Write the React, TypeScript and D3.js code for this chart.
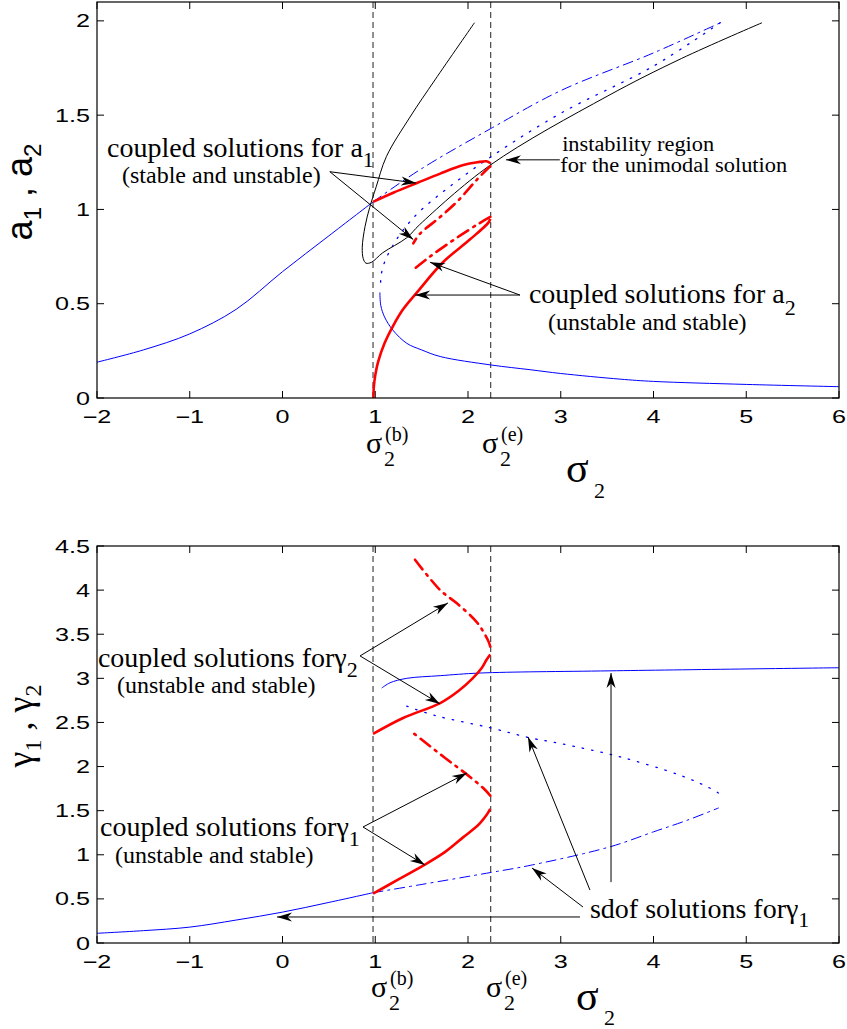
import React from "react";
import * as d3 from "d3";

const WIDTH = 847;
const HEIGHT = 1029;
const SERIF = "'Liberation Serif', 'Times New Roman', serif";
const SANS = "'Liberation Sans', Arial, sans-serif";

type Pt = [number, number];

const X_TICKS = [-2, -1, 0, 1, 2, 3, 4, 5, 6];
const X_TICK_LABELS = ["\u22122", "\u22121", "0", "1", "2", "3", "4", "5", "6"];
const A_TICKS = [0, 0.5, 1, 1.5, 2];
const A_TICK_LABELS = ["0", "0.5", "1", "1.5", "2"];
const G_TICKS = [0, 0.5, 1, 1.5, 2, 2.5, 3, 3.5, 4, 4.5];
const G_TICK_LABELS = ["0", "0.5", "1", "1.5", "2", "2.5", "3", "3.5", "4", "4.5"];

const SIGMA_B = 0.976;
const SIGMA_E = 2.245;

// ---- top panel: amplitudes a1, a2 ----
const sdofA1Lower: Pt[] = [[-2, 0.19], [-1.5, 0.255], [-1, 0.34], [-0.5, 0.47], [0, 0.67], [0.5, 0.86], [0.976, 1.04]];
const sdofA1Upper: Pt[] = [[0.976, 1.04], [1.48, 1.21], [2.25, 1.43], [3, 1.63], [4, 1.83], [4.72, 1.99]];
const sdofA1Middle: Pt[] = [[4.72, 1.99], [4, 1.76], [3, 1.51], [2.25, 1.28], [1.8, 1.12], [1.48, 0.99], [1.3, 0.89], [1.18, 0.8], [1.1, 0.72], [1.06, 0.64], [1.06, 0.6]];
const sdofA1Low: Pt[] = [[1.05, 0.56], [1.06, 0.49], [1.1, 0.43], [1.19, 0.36], [1.34, 0.29], [1.5, 0.255], [1.7, 0.22], [2.25, 0.175], [2.67, 0.15], [3, 0.13], [3.64, 0.1], [4, 0.088], [5, 0.072], [6, 0.06]];
const unimodalA: Pt[] = [[2.07, 1.99], [1.644, 1.687], [1.375, 1.49], [1.12, 1.28], [1.01, 1.12], [0.94, 1.01], [0.89, 0.91], [0.86, 0.8], [0.87, 0.74], [0.9, 0.715], [0.96, 0.72], [1.08, 0.77], [1.34, 0.85], [1.48, 0.92], [2.24, 1.235], [3.5, 1.6], [4.3, 1.8], [5.17, 1.99]];
const coupledA1Stable: Pt[] = [[0.976, 1.04], [1.2, 1.09], [1.45, 1.14], [1.7, 1.19], [1.95, 1.235], [2.1, 1.25], [2.2, 1.255], [2.24, 1.245]];
const coupledA1Unstable: Pt[] = [[2.24, 1.23], [2.1, 1.16], [1.9, 1.05], [1.7, 0.96], [1.48, 0.87], [1.41, 0.82]];
const coupledA2Stable: Pt[] = [[0.98, 0], [0.985, 0.06], [1.0, 0.12], [1.03, 0.19], [1.1, 0.29], [1.19, 0.38], [1.3, 0.47], [1.45, 0.56], [1.73, 0.72], [2.02, 0.84], [2.22, 0.93], [2.24, 0.95]];
const coupledA2Unstable: Pt[] = [[2.24, 0.96], [2.1, 0.92], [1.85, 0.84], [1.59, 0.75], [1.41, 0.68]];

// ---- bottom panel: phases gamma1, gamma2 ----
const sdofG1Lower: Pt[] = [[-2, 0.11], [-1.5, 0.14], [-1, 0.18], [-0.5, 0.26], [0, 0.35], [0.5, 0.46], [0.976, 0.57]];
const sdofG1Upper: Pt[] = [[0.976, 0.57], [1.48, 0.66], [2.25, 0.8], [2.67, 0.88], [3.53, 1.09], [4, 1.26], [4.36, 1.39], [4.7, 1.53]];
const sdofG1Middle: Pt[] = [[4.7, 1.7], [4.6, 1.76], [4.29, 1.9], [3.64, 2.11], [3, 2.26], [2.65, 2.33], [2.24, 2.44], [1.64, 2.58], [1.3, 2.7]];
const sdofG1High: Pt[] = [[1.07, 2.89], [1.16, 2.95], [1.34, 3.0], [1.7, 3.03], [2.13, 3.06], [3.53, 3.085], [6, 3.12]];
const coupledG2Stable: Pt[] = [[0.976, 2.37], [1.3, 2.55], [1.7, 2.72], [1.9, 2.86], [2.05, 3.0], [2.15, 3.12], [2.2, 3.21], [2.24, 3.27]];
const coupledG2Unstable: Pt[] = [[2.24, 3.36], [2.22, 3.42], [2.1, 3.63], [1.88, 3.85], [1.7, 4.0], [1.41, 4.37]];
const coupledG1Stable: Pt[] = [[0.976, 0.56], [1.25, 0.72], [1.52, 0.88], [1.75, 1.03], [1.95, 1.2], [2.07, 1.3], [2.13, 1.36], [2.2, 1.45], [2.24, 1.52]];
const coupledG1Unstable: Pt[] = [[2.24, 1.67], [2.18, 1.74], [2.0, 1.9], [1.75, 2.1], [1.41, 2.38]];

type Style = { stroke: string; width: number; dash?: string };
const BLUE = "#0000ff";
const RED = "#ff0000";
const blueSolid: Style = { stroke: BLUE, width: 1 };
const blueDashDot: Style = { stroke: BLUE, width: 1, dash: "10,5,2,5" };
const blueDot: Style = { stroke: BLUE, width: 1.3, dash: "1.5,8" };
const redSolid: Style = { stroke: RED, width: 2.6 };
const redDashDot: Style = { stroke: RED, width: 2.6, dash: "12,6,2,6" };
const blackSolid: Style = { stroke: "#000", width: 1 };

type Arrow = { from: Pt; to: Pt };
type Part = { text: string; size?: number; dy?: number; dx?: number };
type Note = { at: Pt; size: number; parts: Part[]; length?: number };

const topArrows: Arrow[] = [
  { from: [0.51, 1.2], to: [1.44, 1.14] },
  { from: [0.51, 1.2], to: [1.41, 0.84] },
  { from: [2.99, 1.263], to: [2.41, 1.263] },
  { from: [2.56, 0.546], to: [1.59, 0.72] },
  { from: [2.56, 0.546], to: [1.43, 0.546] },
];
const topNotes: Note[] = [
  { at: [-1.892, 1.278], size: 28, parts: [{ text: "coupled solutions for a" }, { text: "1", size: 22, dy: 10 }] },
  { at: [-1.73, 1.14], size: 24, parts: [{ text: "(stable and unstable)" }] },
  { at: [3.015, 1.31], size: 20, parts: [{ text: "instability region" }], length: 152 },
  { at: [2.994, 1.196], size: 20, parts: [{ text: "for the unimodal solution" }], length: 227 },
  { at: [2.657, 0.504], size: 28, parts: [{ text: "coupled solutions for a" }, { text: "2", size: 22, dy: 12 }] },
  { at: [2.862, 0.36], size: 24, parts: [{ text: "(unstable and stable)" }] },
];

const bottomArrows: Arrow[] = [
  { from: [0.836, 3.254], to: [1.784, 3.855] },
  { from: [0.836, 3.254], to: [1.698, 2.71] },
  { from: [0.868, 1.315], to: [1.989, 1.927] },
  { from: [0.868, 1.315], to: [1.536, 0.884] },
  { from: [3.208, 0.295], to: [-0.059, 0.295] },
  { from: [3.24, 0.408], to: [2.69, 0.85] },
  { from: [3.315, 0.6], to: [2.647, 2.336] },
  { from: [3.542, 0.69], to: [3.542, 3.06] },
];
const bottomNotes: Note[] = [
  { at: [-1.99, 3.13], size: 28, parts: [{ text: "coupled solutions for" }, { text: "\u03b3" }, { text: "2", size: 22, dy: 10 }] },
  { at: [-1.785, 2.83], size: 24, parts: [{ text: "(unstable and stable)" }] },
  { at: [-1.968, 1.213], size: 28, parts: [{ text: "coupled solutions for" }, { text: "\u03b3" }, { text: "1", size: 22, dy: 10 }] },
  { at: [-1.806, 0.907], size: 24, parts: [{ text: "(unstable and stable)" }] },
  { at: [3.315, 0.283], size: 28, parts: [{ text: "sdof solutions for" }, { text: "\u03b3" }, { text: "1", size: 22, dy: 9 }] },
];

type Curve = { data: Pt[]; style: Style };

const topCurves: Curve[] = [
  { data: sdofA1Lower, style: blueSolid },
  { data: sdofA1Upper, style: blueDashDot },
  { data: sdofA1Middle, style: blueDot },
  { data: sdofA1Low, style: blueSolid },
  { data: unimodalA, style: blackSolid },
  { data: coupledA1Stable, style: redSolid },
  { data: coupledA1Unstable, style: redDashDot },
  { data: coupledA2Stable, style: redSolid },
  { data: coupledA2Unstable, style: redDashDot },
];
const bottomCurves: Curve[] = [
  { data: sdofG1Lower, style: blueSolid },
  { data: sdofG1Upper, style: blueDashDot },
  { data: sdofG1Middle, style: blueDot },
  { data: sdofG1High, style: blueSolid },
  { data: coupledG2Stable, style: redSolid },
  { data: coupledG2Unstable, style: redDashDot },
  { data: coupledG1Stable, style: redSolid },
  { data: coupledG1Unstable, style: redDashDot },
];

function arrowHead(x0: number, y0: number, x1: number, y1: number) {
  const len = Math.hypot(x1 - x0, y1 - y0);
  const ux = (x1 - x0) / len;
  const uy = (y1 - y0) / len;
  const L = 15;
  const W = 4.5;
  const bx = x1 - ux * L;
  const by = y1 - uy * L;
  const nx = x1 - ux * L * 0.7;
  const ny = y1 - uy * L * 0.7;
  return `M${x1},${y1}L${bx - uy * W},${by + ux * W}L${nx},${ny}L${bx + uy * W},${by - ux * W}Z`;
}

type PanelProps = {
  top: number;
  bottom: number;
  yDomain: [number, number];
  yTicks: number[];
  yTickLabels: string[];
  curves: Curve[];
  arrows: Arrow[];
  notes: Note[];
  yLabel: { main: string; sub: string }[];
  yLabelFont: string;
  yLabelY: number;
  sigmaB: [number, number];
  sigmaE: [number, number];
  sigmaAxis: [number, number, number];
};

function Panel(p: PanelProps) {
  const x = d3.scaleLinear().domain([-2, 6]).range([97, 839]);
  const y = d3.scaleLinear().domain(p.yDomain).range([p.bottom, p.top]);
  const line = d3
    .line<Pt>()
    .x((d) => x(d[0]))
    .y((d) => y(d[1]))
    .curve(d3.curveCatmullRom.alpha(0.5));
  const left = x(-2);
  const right = x(6);
  const tickLen = 7;

  const sigmaMark = (sx: number, base: number, sup: string) => (
    <g fontFamily={SERIF}>
      <text x={sx} y={base} fontSize={30}>{"\u03c3"}</text>
      <text x={sx + 18} y={base + 13} fontSize={22}>2</text>
      <text x={sx + 19} y={base - 12} fontSize={20}>{sup}</text>
    </g>
  );

  return (
    <g>
      {[SIGMA_B, SIGMA_E].map((s) => (
        <line key={s} x1={x(s)} x2={x(s)} y1={p.top} y2={p.bottom} stroke="#222" strokeWidth={1} strokeDasharray="6,4" />
      ))}
      {p.curves.map((c, i) => (
        <path
          key={i}
          d={line(c.data) ?? ""}
          fill="none"
          stroke={c.style.stroke}
          strokeWidth={c.style.width}
          strokeDasharray={c.style.dash}
          strokeLinecap={c.style.dash ? "round" : "butt"}
        />
      ))}
      {p.arrows.map((a, i) => {
        const x0 = x(a.from[0]);
        const y0 = y(a.from[1]);
        const x1 = x(a.to[0]);
        const y1 = y(a.to[1]);
        return (
          <g key={i}>
            <line x1={x0} y1={y0} x2={x1} y2={y1} stroke="#000" strokeWidth={1} />
            <path d={arrowHead(x0, y0, x1, y1)} fill="#000" />
          </g>
        );
      })}
      {p.notes.map((n, i) => (
        <text
          key={i}
          x={x(n.at[0])}
          y={y(n.at[1])}
          fontFamily={SERIF}
          fontSize={n.size}
          fill="#000"
          textLength={n.length}
          lengthAdjust={n.length ? "spacingAndGlyphs" : undefined}
        >
          {n.parts.map((pt, j) => (
            <tspan key={j} fontSize={pt.size} dy={pt.dy} dx={pt.dx}>
              {pt.text}
            </tspan>
          ))}
        </text>
      ))}
      {/* frame and ticks */}
      <rect x={left} y={p.top} width={right - left} height={p.bottom - p.top} fill="none" stroke="#000" strokeWidth={1.2} />
      {X_TICKS.map((t, i) => (
        <g key={t}>
          <line x1={x(t)} x2={x(t)} y1={p.bottom} y2={p.bottom - tickLen} stroke="#000" />
          <line x1={x(t)} x2={x(t)} y1={p.top} y2={p.top + tickLen} stroke="#000" />
          <text
            transform={`translate(${x(t)},${p.bottom + 25}) scale(1.4,1)`}
            textAnchor="middle"
            fontFamily={SANS}
            fontSize={18}
          >
            {X_TICK_LABELS[i]}
          </text>
        </g>
      ))}
      {p.yTicks.map((t, i) => (
        <g key={t}>
          <line x1={left} x2={left + tickLen} y1={y(t)} y2={y(t)} stroke="#000" />
          <line x1={right} x2={right - tickLen} y1={y(t)} y2={y(t)} stroke="#000" />
          <text
            transform={`translate(${left - 7},${y(t) + 6.5}) scale(1.4,1)`}
            textAnchor="end"
            fontFamily={SANS}
            fontSize={18}
          >
            {p.yTickLabels[i]}
          </text>
        </g>
      ))}
      <text transform={`translate(32,${p.yLabelY}) rotate(-90)`} textAnchor="middle" fontFamily={p.yLabelFont} fontSize={36}>
        {p.yLabel.map((l, i) => (
          <React.Fragment key={i}>
            <tspan dy={i === 0 ? 0 : -9}>{l.main}</tspan>
            <tspan fontSize={24} dy={9}>{l.sub}</tspan>
          </React.Fragment>
        ))}
      </text>
      {sigmaMark(p.sigmaB[0], p.sigmaB[1], "(b)")}
      {sigmaMark(p.sigmaE[0], p.sigmaE[1], "(e)")}
      <g fontFamily={SERIF}>
        <text x={p.sigmaAxis[0]} y={p.sigmaAxis[1]} fontSize={42}>{"\u03c3"}</text>
        <text x={p.sigmaAxis[0] + 28} y={p.sigmaAxis[2]} fontSize={22}>2</text>
      </g>
    </g>
  );
}

export default function App() {
  return (
    <svg
      width={WIDTH}
      height={HEIGHT}
      viewBox={`0 0 ${WIDTH} ${HEIGHT}`}
      style={{ position: "absolute", left: 0, top: 0, background: "#fff" }}
    >
      <rect width={WIDTH} height={HEIGHT} fill="#fff" />
      <Panel
        top={2}
        bottom={398}
        yDomain={[0, 2.1]}
        yTicks={A_TICKS}
        yTickLabels={A_TICK_LABELS}
        curves={topCurves}
        arrows={topArrows}
        notes={topNotes}
        yLabel={[
          { main: "a", sub: "1" },
          { main: " , a", sub: "2" },
        ]}
        yLabelFont={SANS}
        yLabelY={192}
        sigmaB={[366, 453]}
        sigmaE={[482, 453]}
        sigmaAxis={[566, 482, 498]}
      />
      <Panel
        top={546}
        bottom={943}
        yDomain={[0, 4.5]}
        yTicks={G_TICKS}
        yTickLabels={G_TICK_LABELS}
        curves={bottomCurves}
        arrows={bottomArrows}
        notes={bottomNotes}
        yLabel={[
          { main: "\u03b3", sub: "1" },
          { main: " , \u03b3", sub: "2" },
        ]}
        yLabelFont={SERIF}
        yLabelY={726}
        sigmaB={[371, 997]}
        sigmaE={[486, 997]}
        sigmaAxis={[576, 1010, 1025]}
      />
    </svg>
  );
}
